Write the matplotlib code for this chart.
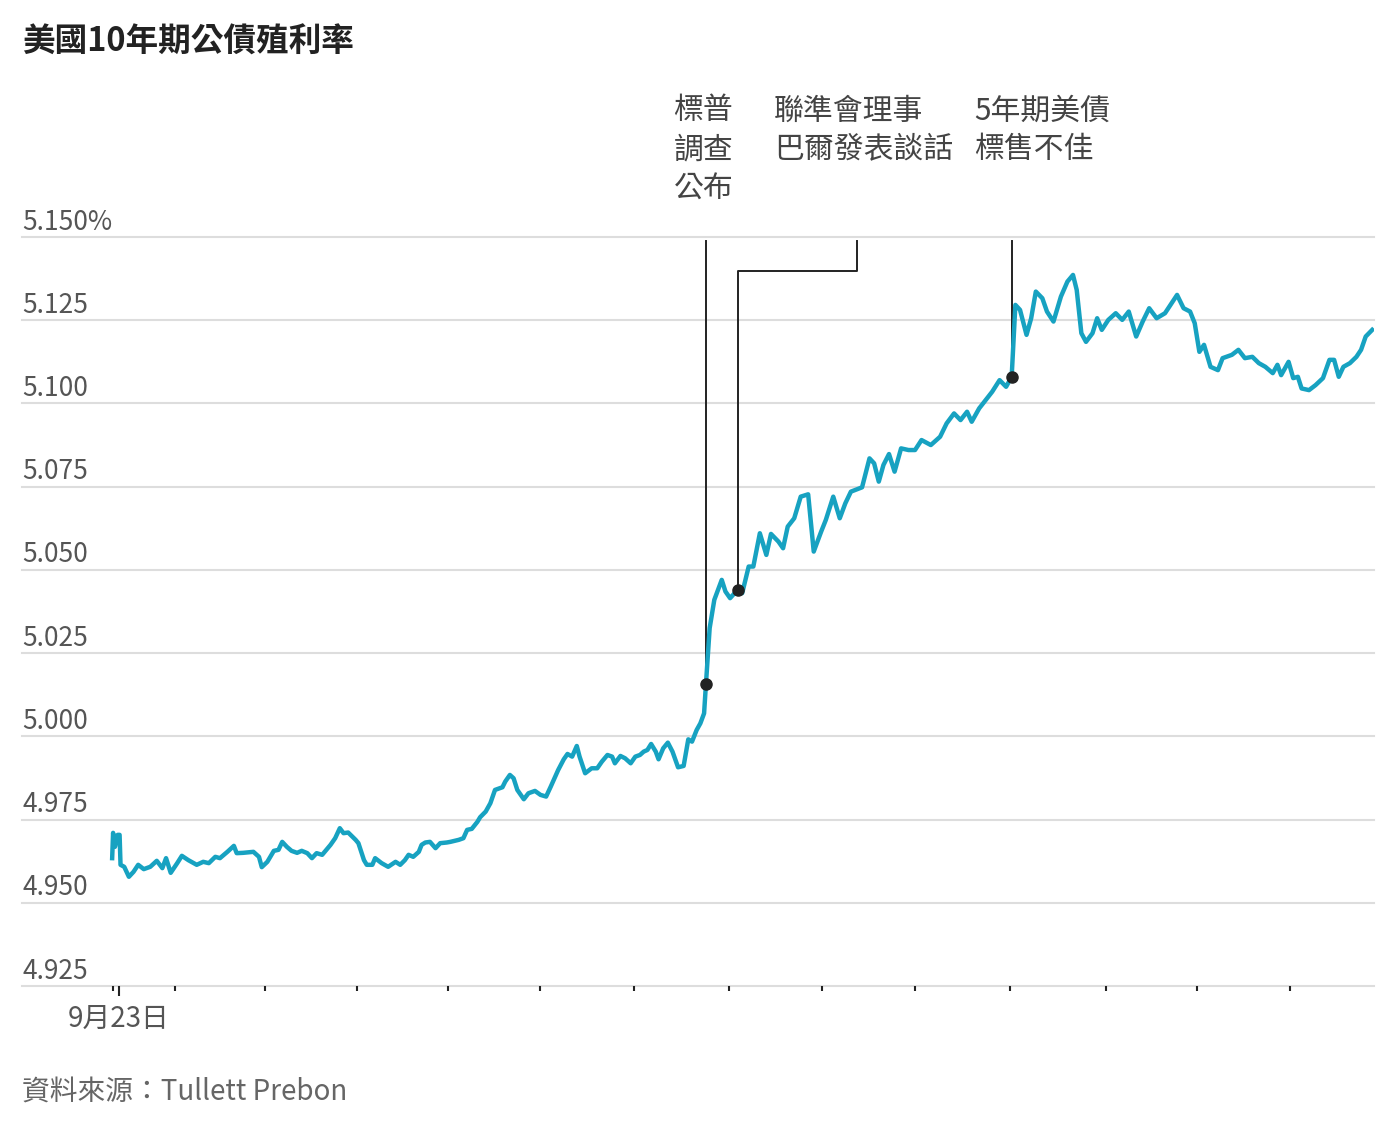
import matplotlib.pyplot as plt
from matplotlib import transforms

plt.rcParams['font.family'] = ['Noto Sans CJK TC', 'DejaVu Sans']

# 時間（小時，相對 9月23日 刻度）與殖利率
hours = [-0.07, -0.06, -0.04, -0.01, 0.01, 0.02, 0.06, 0.11, 0.16, 0.21,
         0.27, 0.34, 0.41, 0.47, 0.51, 0.56, 0.63, 0.68, 0.75, 0.84,
         0.91, 0.97, 1.04, 1.09, 1.17, 1.24, 1.27, 1.34, 1.45, 1.51,
         1.54, 1.60, 1.67, 1.72, 1.76, 1.81, 1.86, 1.92, 1.97, 2.03,
         2.08, 2.13, 2.19, 2.28, 2.33, 2.38, 2.42, 2.47, 2.55, 2.58,
         2.64, 2.67, 2.73, 2.76, 2.83, 2.90, 2.98, 3.03, 3.08, 3.12,
         3.17, 3.23, 3.26, 3.30, 3.35, 3.41, 3.46, 3.53, 3.57, 3.66,
         3.71, 3.75, 3.80, 3.86, 3.89, 3.95, 4.00, 4.05, 4.13, 4.16,
         4.21, 4.25, 4.29, 4.36, 4.41, 4.48, 4.54, 4.60, 4.65, 4.69,
         4.73, 4.79, 4.83, 4.88, 4.93, 4.96, 5.02, 5.09, 5.15, 5.20,
         5.26, 5.31, 5.34, 5.40, 5.45, 5.51, 5.56, 5.61, 5.65, 5.69,
         5.73, 5.78, 5.81, 5.86, 5.91, 5.96, 6.02, 6.08, 6.13, 6.17,
         6.22, 6.26, 6.30, 6.32, 6.36, 6.41, 6.49, 6.53, 6.58, 6.66,
         6.71, 6.78, 6.83, 6.90, 6.97, 7.02, 7.10, 7.15, 7.20, 7.27,
         7.34, 7.42, 7.48, 7.56, 7.61, 7.69, 7.76, 7.82, 7.88, 8.00,
         8.08, 8.13, 8.18, 8.23, 8.29, 8.35, 8.42, 8.50, 8.57, 8.64,
         8.74, 8.84, 8.91, 8.99, 9.06, 9.13, 9.18, 9.26, 9.33, 9.40,
         9.48, 9.55, 9.61, 9.65, 9.70, 9.77, 9.82, 9.87, 9.94, 9.99,
         10.06, 10.14, 10.21, 10.27, 10.31, 10.36, 10.41, 10.48, 10.53, 10.58,
         10.65, 10.73, 10.80, 10.87, 10.95, 11.02, 11.09, 11.17, 11.26, 11.39,
         11.46, 11.53, 11.58, 11.63, 11.68, 11.75, 11.83, 11.88, 11.98, 12.05,
         12.12, 12.20, 12.27, 12.34, 12.42, 12.47, 12.51, 12.59, 12.64, 12.69,
         12.73, 12.81, 12.88, 12.96, 13.03, 13.08, 13.13, 13.18, 13.25, 13.32,
         13.37, 13.42, 13.49]
yields = [4.9634, 4.9710, 4.9668, 4.9704, 4.9704, 4.9614, 4.9608, 4.9578, 4.9593, 4.9614,
          4.9601, 4.9608, 4.9626, 4.9604, 4.9634, 4.9590, 4.9619, 4.9641, 4.9628, 4.9614,
          4.9623, 4.9619, 4.9638, 4.9634, 4.9653, 4.9671, 4.9649, 4.9650, 4.9653, 4.9638,
          4.9607, 4.9623, 4.9656, 4.9659, 4.9683, 4.9668, 4.9656, 4.9650, 4.9656, 4.9649,
          4.9634, 4.9649, 4.9644, 4.9674, 4.9694, 4.9724, 4.9709, 4.9711, 4.9689, 4.9679,
          4.9628, 4.9614, 4.9614, 4.9634, 4.9619, 4.9608, 4.9623, 4.9614, 4.9628, 4.9644,
          4.9638, 4.9653, 4.9674, 4.9681, 4.9683, 4.9664, 4.9679, 4.9681, 4.9683, 4.9689,
          4.9694, 4.9719, 4.9722, 4.9743, 4.9757, 4.9774, 4.9799, 4.9839, 4.9847, 4.9864,
          4.9884, 4.9874, 4.9839, 4.9811, 4.9829, 4.9836, 4.9824, 4.9819, 4.9849, 4.9874,
          4.9899, 4.9931, 4.9947, 4.9939, 4.9971, 4.9939, 4.9889, 4.9904, 4.9904, 4.9924,
          4.9944, 4.9939, 4.9919, 4.9941, 4.9934, 4.9919, 4.9939, 4.9944, 4.9954, 4.9959,
          4.9977, 4.9954, 4.9931, 4.9964, 4.9981, 4.9954, 4.9907, 4.9911, 4.9991, 4.9984,
          5.0019, 5.0039, 5.0069, 5.0157, 5.0325, 5.0410, 5.0470, 5.0435, 5.0415, 5.0440,
          5.0430, 5.0510, 5.0510, 5.0610, 5.0545, 5.0608, 5.0585, 5.0565, 5.0630, 5.0655,
          5.0720, 5.0727, 5.0555, 5.0615, 5.0650, 5.0720, 5.0655, 5.0700, 5.0735, 5.0748,
          5.0835, 5.0820, 5.0765, 5.0815, 5.0848, 5.0795, 5.0865, 5.0860, 5.0860, 5.0890,
          5.0875, 5.0900, 5.0940, 5.0970, 5.0950, 5.0975, 5.0945, 5.0985, 5.1010, 5.1035,
          5.1070, 5.1050, 5.1080, 5.1296, 5.1281, 5.1206, 5.1256, 5.1336, 5.1316, 5.1276,
          5.1246, 5.1321, 5.1366, 5.1386, 5.1341, 5.1211, 5.1185, 5.1211, 5.1256, 5.1221,
          5.1251, 5.1271, 5.1251, 5.1276, 5.1201, 5.1246, 5.1286, 5.1256, 5.1271, 5.1326,
          5.1286, 5.1276, 5.1241, 5.1155, 5.1176, 5.1110, 5.1100, 5.1136, 5.1146, 5.1161,
          5.1136, 5.1140, 5.1121, 5.1110, 5.1091, 5.1116, 5.1085, 5.1125, 5.1076, 5.1080,
          5.1045, 5.1040, 5.1055, 5.1076, 5.1131, 5.1131, 5.1080, 5.1110, 5.1121, 5.1140,
          5.1161, 5.1201, 5.1221]

# 事件
event_hours = [6.32, 6.66, 9.61]
event_yields = [5.0157, 5.0440, 5.1080]
event_labels = ['標普\n調查\n公布', '聯準會理事\n巴爾發表談話', '5年期美債\n標售不佳']
label_hours = [5.97, 7.05, 9.21]
leader_top = 5.1488
elbow_y = 5.1398
elbow_x = 7.95

y_ticks = [4.925, 4.950, 4.975, 5.000, 5.025, 5.050, 5.075, 5.100, 5.125, 5.150]
y_labels = ['4.925', '4.950', '4.975', '5.000', '5.025', '5.050', '5.075', '5.100', '5.125', '5.150%']
minor_hours = [-0.065, 0.61, 1.57, 2.57, 3.54, 4.53, 5.55, 6.57, 7.57, 8.57, 9.59, 10.62, 11.6, 12.61]

teal = '#17a2c1'
ink = '#222222'
grey = '#555555'

fig = plt.figure(figsize=(13.94, 11.28), dpi=100)
ax = fig.add_axes([0.0158, 0.1259, 0.9699, 0.6640])

ax.set_xlim(-1.04, 13.51)
ax.set_ylim(4.925, 5.150)

for v, lab in zip(y_ticks, y_labels):
    ax.axhline(v, color='#dddddd', lw=1.5, zorder=0, clip_on=False)
    ax.annotate(lab, xy=(0, v), xycoords=('axes fraction', 'data'),
                xytext=(0, 1), textcoords='offset points',
                ha='left', va='bottom', fontsize=19, color=grey, fontweight='light')

ax.plot(hours, yields, color=teal, lw=3.2, solid_joinstyle='round', zorder=3)

# 註解引線
ax.plot([event_hours[0], event_hours[0]], [event_yields[0], leader_top], color=ink, lw=1.4, zorder=2, clip_on=False)
ax.plot([event_hours[1], event_hours[1], elbow_x, elbow_x],
        [event_yields[1], elbow_y, elbow_y, leader_top], color=ink, lw=1.4, zorder=2, clip_on=False)
ax.plot([event_hours[2], event_hours[2]], [event_yields[2], leader_top], color=ink, lw=1.4, zorder=2, clip_on=False)
ax.plot(event_hours, event_yields, 'o', color=ink, ms=8, zorder=4)

trans = transforms.blended_transform_factory(ax.transData, ax.transAxes)
for xh, lab in zip(label_hours, event_labels):
    ax.text(xh, 1.189, lab, transform=trans, ha='left', va='top',
            fontsize=21.5, color='#444444', linespacing=1.33, fontweight='light')

for s in ax.spines.values():
    s.set_visible(False)
ax.set_yticks([])
ax.set_xticks([0])
ax.set_xticklabels(['9月23日'], fontsize=20, color=grey, fontweight='light')
ax.set_xticks(minor_hours, minor=True)
ax.tick_params(axis='x', which='major', length=7, width=1.5, color=ink, pad=6)
ax.tick_params(axis='x', which='minor', length=3.5, width=1.5, color=ink)

fig.text(22 / 1394, 1 - 42 / 1128, '美國10年期公債殖利率', ha='left', va='center',
         fontsize=23.5, fontweight='bold', color='#222222')
fig.text(22 / 1394, 1 - 1093 / 1128, '資料來源：Tullett Prebon', ha='left', va='center',
         fontsize=20, color='#666666', fontweight='light')

fig.savefig('out.png', dpi=100, facecolor='white')
